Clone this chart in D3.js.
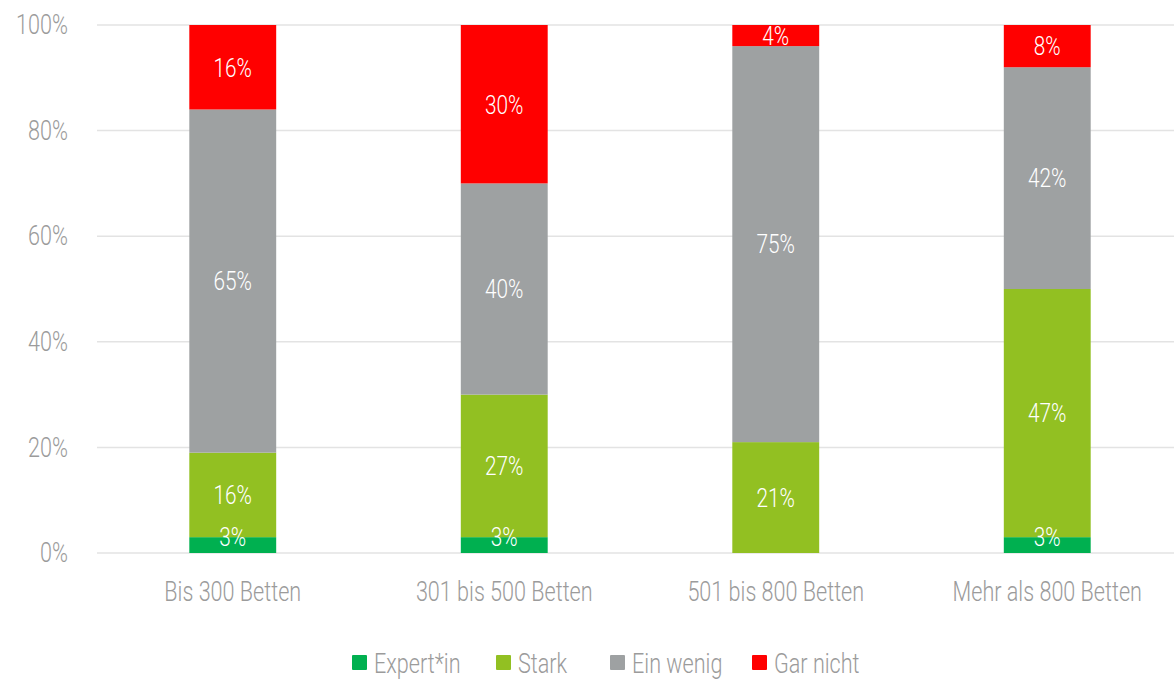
<!DOCTYPE html>
<html>
<head>
<meta charset="utf-8">
<script src="https://cdn.jsdelivr.net/npm/d3@7"></script>
<style>
  html, body { margin: 0; padding: 0; background: #fff; }
  svg text { font-family: Roboto, "DejaVu Sans Condensed", sans-serif; font-weight: 300; }
</style>
</head>
<body>
<svg id="chart" width="1174" height="680"></svg>
<script>
// Chart data
const categories = ["Bis 300 Betten", "301 bis 500 Betten", "501 bis 800 Betten", "Mehr als 800 Betten"];
const seriesNames = ["Expert*in", "Stark", "Ein wenig", "Gar nicht"];
const expertIn = [3, 3, 0, 3];
const stark = [16, 27, 21, 47];
const einWenig = [65, 40, 75, 42];
const garNicht = [16, 30, 4, 8];
const yTicks = [0, 20, 40, 60, 80, 100];
const colors = ["#00B050", "#92C022", "#9EA1A2", "#FF0000"];

const svg = d3.select("#chart");
const W = 1174;
const squeeze = "scale(0.8,1)"; // condensed lettering
const textGrey = "#9b9b9b";

const rows = categories.map((c, i) => ({
  cat: c,
  "Expert*in": expertIn[i],
  "Stark": stark[i],
  "Ein wenig": einWenig[i],
  "Gar nicht": garNicht[i]
}));

const x = d3.scaleBand().domain(categories).range([97, 1183]).paddingInner(0.68).paddingOuter(0.34);
const y = d3.scaleLinear().domain([0, 100]).range([553, 25]);
const color = d3.scaleOrdinal().domain(seriesNames).range(colors);

// gridlines
svg.append("g").selectAll("line").data(yTicks).join("line")
  .attr("x1", 97).attr("x2", W)
  .attr("y1", d => y(d)).attr("y2", d => y(d))
  .attr("stroke", "#e3e3e3").attr("stroke-width", 1.5);

// y axis labels
const yAxis = d3.axisLeft(y).tickValues(yTicks).tickFormat(d => d + "%").tickSize(0).tickPadding(0);
const gy = svg.append("g").attr("transform", "translate(68,0)").call(yAxis);
gy.select(".domain").remove();
gy.selectAll("text").attr("fill", textGrey).attr("font-size", 27)
  .attr("font-family", null).attr("transform", squeeze);

// stacked bars
const stack = d3.stack().keys(seriesNames)(rows);
const bars = svg.append("g").selectAll("g").data(stack).join("g").attr("fill", d => color(d.key));
bars.selectAll("rect").data(d => d).join("rect")
  .attr("x", d => x(d.data.cat))
  .attr("width", x.bandwidth())
  .attr("y", d => y(d[1]))
  .attr("height", d => y(d[0]) - y(d[1]));

// value labels
const labels = svg.append("g");
stack.forEach(s => {
  s.forEach(d => {
    const v = d[1] - d[0];
    if (v <= 0) return;
    let cy = (y(d[0]) + y(d[1])) / 2;
    cy = Math.min(cy, y(0) - 16);
    cy = Math.max(cy, y(100) + 11);
    labels.append("text")
      .attr("transform", `translate(${x(d.data.cat) + x.bandwidth() / 2},${cy}) ${squeeze}`)
      .attr("dy", "0.36em")
      .attr("text-anchor", "middle")
      .attr("fill", "#fff")
      .attr("font-size", 26)
      .text(v + "%");
  });
});

// x axis labels
const xAxis = d3.axisBottom(x).tickSize(0).tickPadding(0);
const gx = svg.append("g").attr("transform", "translate(0,591)").call(xAxis);
gx.select(".domain").remove();
gx.selectAll("text").attr("fill", textGrey).attr("font-size", 27).attr("dy", "0.36em")
  .attr("font-family", null).attr("transform", squeeze);

// legend
const legendX = [352, 496, 610, 752];
const legend = svg.append("g").selectAll("g").data(seriesNames).join("g")
  .attr("transform", (d, i) => `translate(${legendX[i]},655)`);
legend.append("rect").attr("width", 15).attr("height", 15).attr("rx", 1).attr("fill", d => color(d));
legend.append("text").attr("transform", `translate(22,8) ${squeeze}`).attr("dy", "0.36em")
  .attr("fill", textGrey).attr("font-size", 27).text(d => d);
</script>
</body>
</html>
